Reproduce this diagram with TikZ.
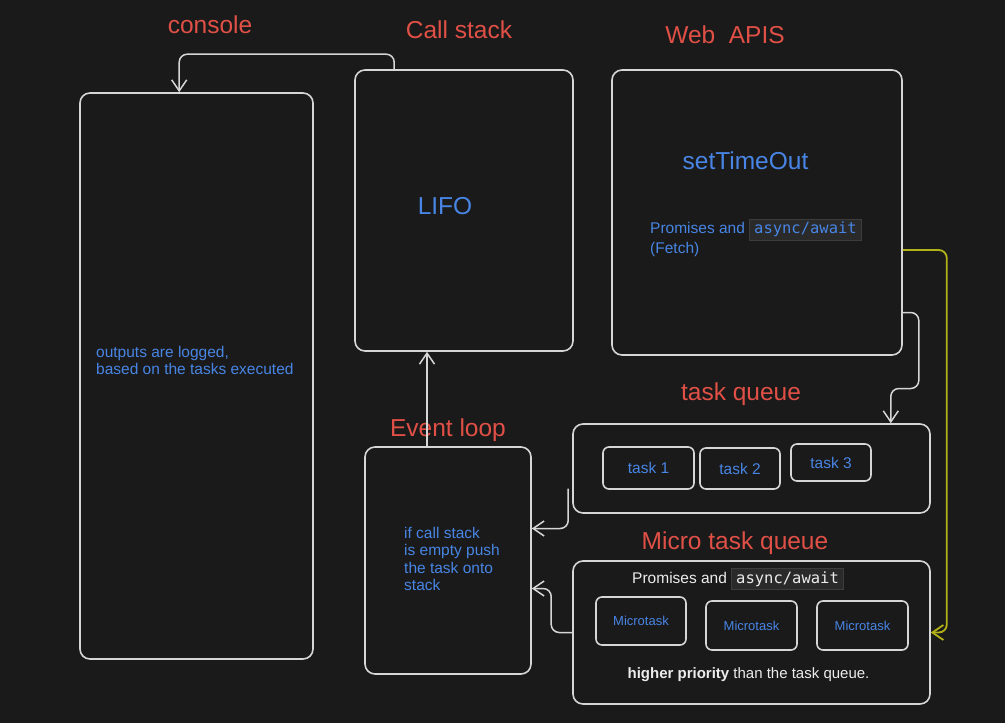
\documentclass[tikz,border=0pt]{standalone}
\usepackage{fontspec}
\setmainfont{Liberation Sans}
\setmonofont{DejaVu Sans Mono}
\usetikzlibrary{arrows.meta,calc}

\definecolor{bgdark}{RGB}{26,26,26}
\definecolor{stroke}{RGB}{214,214,214}
\definecolor{titlered}{RGB}{224,80,70}
\definecolor{noteblue}{RGB}{72,133,228}
\definecolor{asyncyellow}{RGB}{178,178,24}
\definecolor{codebg}{RGB}{42,42,42}
\definecolor{codeline}{RGB}{60,60,60}
\definecolor{offwhite}{RGB}{236,236,236}

\newcommand{\codetag}[1]{{\setlength{\fboxsep}{2.5pt}\fcolorbox{codeline}{codebg}{\ttfamily\hspace{2pt}#1\hspace{2pt}}}}

\begin{document}
\begin{tikzpicture}[x=1pt, y=-1pt,
    box/.style={draw=stroke, line width=1.6pt, rounded corners=10pt, inner sep=0pt},
    slot/.style={box, rounded corners=6pt, text=noteblue},
    title/.style={text=titlered, font=\fontsize{24.5}{29}\selectfont, anchor=base},
    big/.style={text=noteblue, font=\fontsize{24.5}{29}\selectfont, anchor=base},
    note/.style={text=noteblue, font=\fontsize{15.5}{17.5}\selectfont, align=left, anchor=west, inner sep=0pt},
    flow/.style={draw=stroke, line width=1.5pt, rounded corners=8pt, -{Straight Barb[length=11pt, width=15pt]}}]

    \fill[bgdark] (0,0) rectangle (1005,723);

    % boxes
    \node[box, minimum width=233pt, minimum height=566pt] (console) at (196.5,376) {};
    \node[box, minimum width=218pt, minimum height=281pt] (callstack) at (464,210.5) {};
    \node[box, minimum width=290pt, minimum height=285pt] (webapi) at (757,212.5) {};
    \node[box, minimum width=357pt, minimum height=89pt] (taskq) at (751.5,468.5) {};
    \node[box, minimum width=357pt, minimum height=143pt] (microq) at (751.5,632.5) {};
    \node[box, minimum width=166pt, minimum height=227pt] (eventloop) at (448,560.5) {};

    % titles
    \node[title] (consoletitle) at (210,33) {console};
    \node[title] (stacktitle) at (459,38) {Call stack};
    \node[title] (apititle) at (725,43) {Web\ \ APIS};
    \node[title] (tasktitle) at (741,400) {task queue};
    \node[title] (microtitle) at (735,549) {Micro task queue};
    \node[title] (looptitle) at (448,436) {Event loop};

    % contents
    \node[big] (lifo) at (445,214) {LIFO};
    \node[big] (timeout) at (745.5,169) {setTimeOut};
    \node[note, font=\fontsize{15.5}{19.5}\selectfont] (apinote) at (650,238) {Promises and \codetag{async/await}\\(Fetch)};
    \node[note] (lognote) at (96,360.5) {outputs are logged,\\based on the tasks executed};
    \node[note] (loopnote) at (404,559) {if call stack\\is empty push\\the task onto\\stack};

    \node[slot, minimum width=91pt, minimum height=42pt, font=\fontsize{15.5}{18}\selectfont] (task1) at (648.5,468) {task 1};
    \node[slot, minimum width=80pt, minimum height=41pt, font=\fontsize{15.5}{18}\selectfont] (task2) at (740,468.5) {task 2};
    \node[slot, minimum width=80pt, minimum height=37pt, font=\fontsize{15.5}{18}\selectfont] (task3) at (831,462.5) {task 3};

    \node[text=offwhite, font=\fontsize{15.5}{18}\selectfont, anchor=base] (microhead) at (738,583) {Promises and \codetag{async/await}};
    \node[slot, minimum width=90pt, minimum height=48pt, font=\fontsize{13}{16}\selectfont] (micro1) at (641,621) {Microtask};
    \node[slot, minimum width=91pt, minimum height=49pt, font=\fontsize{13}{16}\selectfont] (micro2) at (751.5,625.5) {Microtask};
    \node[slot, minimum width=91pt, minimum height=49pt, font=\fontsize{13}{16}\selectfont] (micro3) at (862.5,625.5) {Microtask};
    \node[text=offwhite, font=\fontsize{15}{18}\selectfont, anchor=base] (priority) at (748.5,678) {\textbf{higher priority} than the task queue.};

    % connectors
    \draw[flow] ([xshift=40pt]callstack.north west) -- ++(0,-15) -| ([xshift=100pt]console.north west);
    \draw[flow] ([xshift=-21pt]eventloop.north) coordinate (up) -- (up |- callstack.south);
    \draw[flow] ($(webapi.east)+(0,100)$) -- ++(16,0) -- ++(0,76) -- ++(-28,0) -- ($(taskq.north east)+(-40,0)$);
    \draw[flow] ($(taskq.west)+(-4,20)$) |- ($(eventloop.east)+(0,-32)$);
    \draw[flow] (microq.west) -- ++(-21,0) |- ($(eventloop.east)+(0,28)$);
    \draw[flow, draw=asyncyellow, line width=1.8pt] ($(webapi.east)+(0,37.5)$) -- ++(44,0) |- (microq.east);
\end{tikzpicture}
\end{document}
